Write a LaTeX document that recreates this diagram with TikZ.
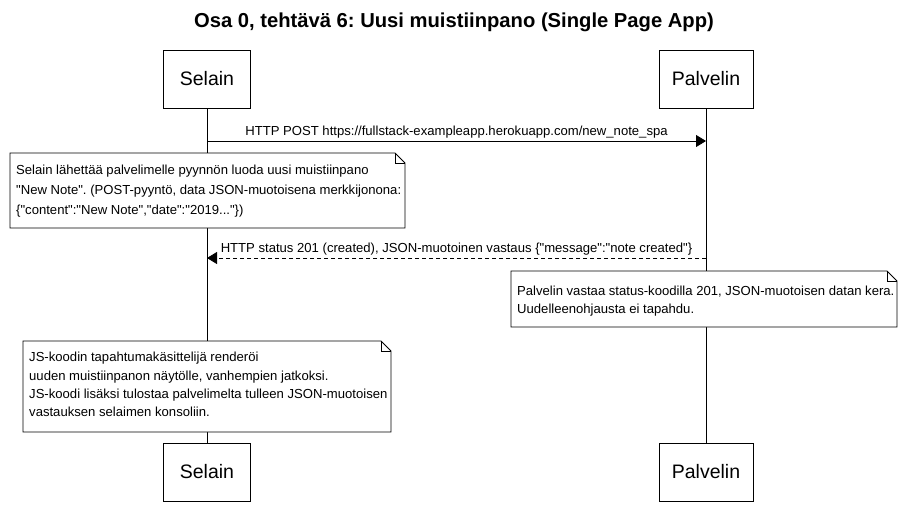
\documentclass[tikz,border=0pt]{standalone}
\usepackage{fontspec}
\setmainfont{Liberation Sans}[Ligatures=TeXOff]
\usetikzlibrary{arrows.meta}
\frenchspacing
\tikzset{
  actor/.style={draw, line width=0.8pt, fill=white, inner sep=0pt, minimum height=58pt, font=\fontsize{19.5}{22}\selectfont},
  life/.style={line width=0.8pt},
  notebox/.style={draw, line width=0.8pt, fill=white},
  notetext/.style={anchor=north west, inner sep=0pt, align=left, font=\fontsize{13.1}{20}\selectfont},
  msg/.style={line width=0.8pt, -{Triangle[length=10pt,width=12pt]}},
  msglabel/.style={above, inner sep=2pt, font=\fontsize{13.1}{15}\selectfont}
}
\begin{document}
\begin{tikzpicture}[x=1pt,y=-1pt]
\useasboundingbox (0,0) rectangle (908,523);
\node[font=\fontsize{20.2}{24}\selectfont\bfseries] (title) at (454,22) {Osa 0, tehtävä 6: Uusi muistiinpano (Single Page App)};
% actors
\node[actor, minimum width=87pt] (st) at (207,79) {Selain};
\node[actor, minimum width=94pt] (pt) at (706,79) {Palvelin};
\node[actor, minimum width=87pt] (sb) at (207,472) {Selain};
\node[actor, minimum width=94pt] (pb) at (706,472) {Palvelin};
\draw[life] (st) -- (sb);
\draw[life] (pt) -- (pb);
% message 1
\coordinate (m1s) at (207,141);
\coordinate (m1e) at (706,141);
\draw[msg] (m1s) -- node[msglabel] (m1l) {HTTP POST https://fullstack-exampleapp.herokuapp.com/new\_note\_spa} (m1e);
% note 1
\draw[notebox] (10,153) -- (395,153) -- (405,163) -- (405,228) -- (10,228) -- cycle;
\draw[line width=0.8pt] (395,153) -- (395,163) -- (405,163);
\node[notetext] (n1) at (16,165) {Selain lähettää palvelimelle pyynnön luoda uusi muistiinpano\\"New Note". (POST-pyyntö, data JSON-muotoisena merkkijonona:\\\{"content":"New Note","date":"2019..."\})};
% message 2
\coordinate (m2s) at (706,258);
\coordinate (m2e) at (207,258);
\draw[msg, dashed, dash pattern=on 4pt off 3pt] (m2s) -- node[msglabel] (m2l) {HTTP status 201 (created), JSON-muotoinen vastaus \{"message":"note created"\}} (m2e);
% note 2
\draw[notebox] (511,271) -- (887,271) -- (897,281) -- (897,327) -- (511,327) -- cycle;
\draw[line width=0.8pt] (887,271) -- (887,281) -- (897,281);
\node[notetext, font=\fontsize{13.1}{18}\selectfont] (n2) at (517,286) {Palvelin vastaa status-koodilla 201, JSON-muotoisen datan kera.\\Uudelleenohjausta ei tapahdu.};
% note 3
\draw[notebox] (23,341) -- (381,341) -- (391,351) -- (391,432) -- (23,432) -- cycle;
\draw[line width=0.8pt] (381,341) -- (381,351) -- (391,351);
\node[notetext, font=\fontsize{13.1}{18.3}\selectfont] (n3) at (29,352) {JS-koodin tapahtumakäsittelijä renderöi\\uuden muistiinpanon näytölle, vanhempien jatkoksi.\\JS-koodi lisäksi tulostaa palvelimelta tulleen JSON-muotoisen\\vastauksen selaimen konsoliin.};
\end{tikzpicture}
\end{document}
